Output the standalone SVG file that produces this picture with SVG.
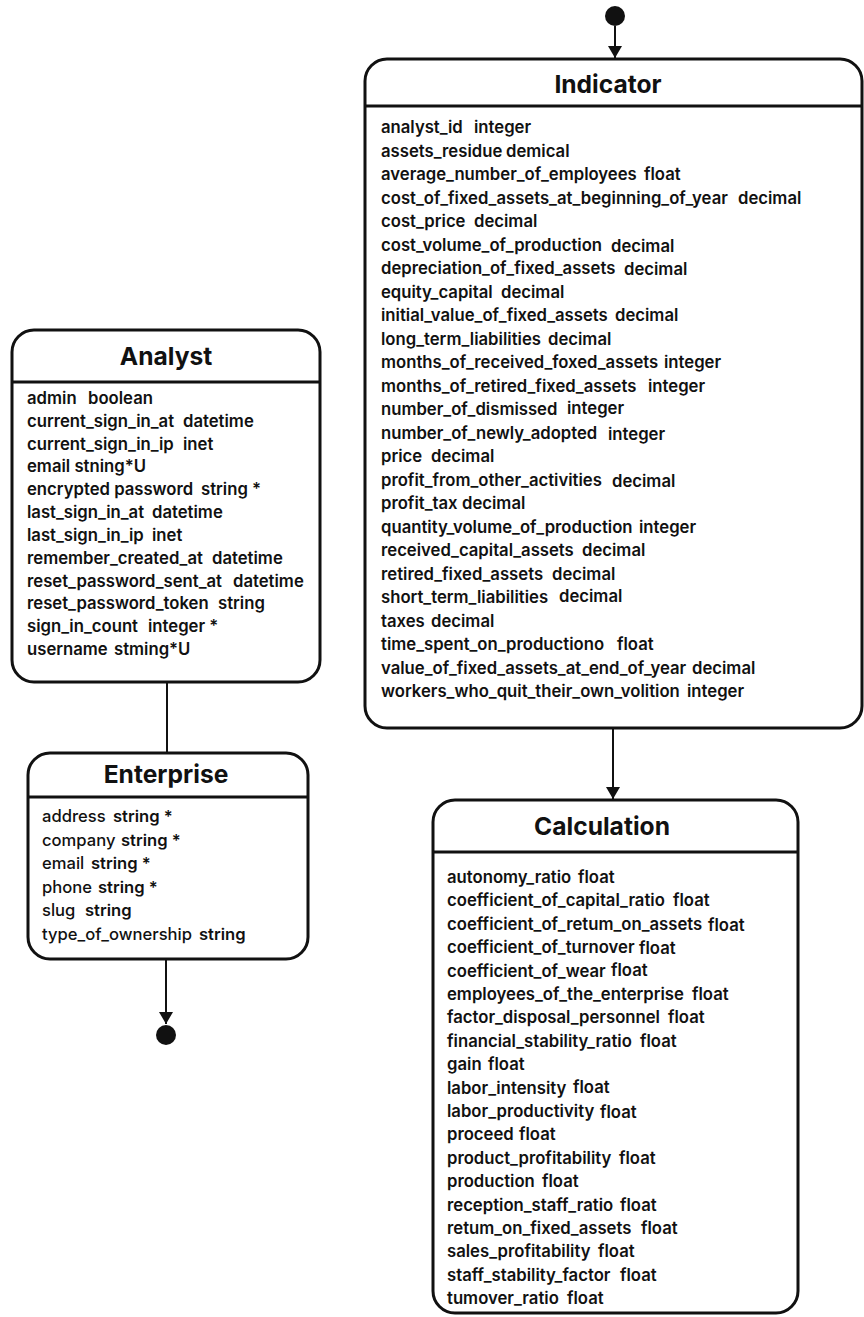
<svg xmlns="http://www.w3.org/2000/svg" width="864" height="1317" viewBox="0 0 864 1317">
<style>
.box{fill:#fff;stroke:#111;stroke-width:3}
.sep{stroke:#111;stroke-width:3}
.title{font-family:Inter,"Liberation Sans",sans-serif;font-weight:700;font-size:24.6px;fill:#111;text-anchor:middle}
.row{font-family:Inter,"Liberation Sans",sans-serif;font-weight:600;font-size:16.7px;fill:#111}
.ent{font-family:Inter,"Liberation Sans",sans-serif;font-weight:500;font-size:16.6px;fill:#111}
.ent .t{font-weight:600}
.conn{stroke:#111;stroke-width:2;fill:none}
.dot{fill:#111}
</style>
<defs>
<marker id="arr" viewBox="0 0 12 14" refX="12" refY="7" markerWidth="12" markerHeight="14" markerUnits="userSpaceOnUse" orient="auto">
<path d="M0,0 L12,7 L0,14 Z" fill="#111"/>
</marker>
</defs>

<g id="connectors">
<circle class="dot" cx="615" cy="16" r="10"/>
<line class="conn" x1="615" y1="26" x2="615" y2="58" marker-end="url(#arr)"/>
<line class="conn" x1="167" y1="682" x2="167" y2="753"/>
<line class="conn" x1="166" y1="959" x2="166" y2="1024" marker-end="url(#arr)"/>
<circle class="dot" cx="166" cy="1035" r="10"/>
<line class="conn" x1="613" y1="728" x2="613" y2="799" marker-end="url(#arr)"/>
</g>

<g id="analyst">
<rect class="box" x="12" y="330" width="308" height="352" rx="22"/>
<line class="sep" x1="12" y1="382" x2="320" y2="382"/>
<text class="title" x="166" y="365">Analyst</text>
<g class="row">
<text x="27" y="404">admin<tspan x="88">boolean</tspan></text>
<text x="27" y="427">current_sign_in_at<tspan x="183">datetime</tspan></text>
<text x="27" y="450">current_sign_in_ip<tspan x="183">inet</tspan></text>
<text x="27" y="472">email stning*U</text>
<text x="27" y="495">encrypted password<tspan x="201">string *</tspan></text>
<text x="27" y="518">last_sign_in_at<tspan x="152">datetime</tspan></text>
<text x="27" y="541">last_sign_in_ip<tspan x="152">inet</tspan></text>
<text x="27" y="564">remember_created_at<tspan x="212">datetime</tspan></text>
<text x="27" y="587">reset_password_sent_at<tspan x="233">datetime</tspan></text>
<text x="27" y="609">reset_password_token<tspan x="218">string</tspan></text>
<text x="27" y="632">sign_in_count<tspan x="148">integer *</tspan></text>
<text x="27" y="655">username<tspan x="114">stming*U</tspan></text>
</g>
</g>

<g id="enterprise">
<rect class="box" x="28" y="753" width="280" height="206" rx="22"/>
<line class="sep" x1="28" y1="797" x2="308" y2="797"/>
<text class="title" x="166" y="783">Enterprise</text>
<g class="ent">
<text x="42" y="822">address<tspan class="t" x="113">string *</tspan></text>
<text x="42" y="846">company<tspan class="t" x="121">string *</tspan></text>
<text x="42" y="869">email<tspan class="t" x="91">string *</tspan></text>
<text x="42" y="893">phone<tspan class="t" x="98">string *</tspan></text>
<text x="42" y="916">slug<tspan class="t" x="85">string</tspan></text>
<text x="42" y="940">type_of_ownership<tspan class="t" x="199">string</tspan></text>
</g>
</g>

<g id="indicator">
<rect class="box" x="365" y="59" width="497" height="669" rx="22"/>
<line class="sep" x1="365" y1="106" x2="862" y2="106"/>
<text class="title" x="608" y="93">Indicator</text>
<g class="row">
<text x="381" y="133">analyst_id<tspan x="474">integer</tspan></text>
<text x="381" y="156.5">assets_residue<tspan x="506">demical</tspan></text>
<text x="381" y="180">average_number_of_employees<tspan x="644">float</tspan></text>
<text x="381" y="203.5">cost_of_fixed_assets_at_beginning_of_year<tspan x="738">decimal</tspan></text>
<text x="381" y="227">cost_price<tspan x="474">decimal</tspan></text>
<text x="381" y="250.5">cost_volume_of_production<tspan x="611" dy="1">decimal</tspan></text>
<text x="381" y="274">depreciation_of_fixed_assets<tspan x="624" dy="1">decimal</tspan></text>
<text x="381" y="297.5">equity_capital<tspan x="501">decimal</tspan></text>
<text x="381" y="321">initial_value_of_fixed_assets<tspan x="615">decimal</tspan></text>
<text x="381" y="344.5">long_term_liabilities<tspan x="548">decimal</tspan></text>
<text x="381" y="368">months_of_received_foxed_assets<tspan x="664">integer</tspan></text>
<text x="381" y="391.5">months_of_retired_fixed_assets<tspan x="648">integer</tspan></text>
<text x="381" y="415">number_of_dismissed<tspan x="567" dy="-1">integer</tspan></text>
<text x="381" y="438.5">number_of_newly_adopted<tspan x="608" dy="1">integer</tspan></text>
<text x="381" y="462">price<tspan x="431">decimal</tspan></text>
<text x="381" y="485.5">profit_from_other_activities<tspan x="612" dy="1">decimal</tspan></text>
<text x="381" y="509">profit_tax<tspan x="462">decimal</tspan></text>
<text x="381" y="532.5">quantity_volume_of_production<tspan x="639">integer</tspan></text>
<text x="381" y="556">received_capital_assets<tspan x="582">decimal</tspan></text>
<text x="381" y="579.5">retired_fixed_assets<tspan x="552">decimal</tspan></text>
<text x="381" y="603">short_term_liabilities<tspan x="559" dy="-1">decimal</tspan></text>
<text x="381" y="626.5">taxes<tspan x="431">decimal</tspan></text>
<text x="381" y="650">time_spent_on_productiono<tspan x="617">float</tspan></text>
<text x="381" y="673.5">value_of_fixed_assets_at_end_of_year<tspan x="692">decimal</tspan></text>
<text x="381" y="697">workers_who_quit_their_own_volition<tspan x="687">integer</tspan></text>
</g>
</g>

<g id="calculation">
<rect class="box" x="433" y="800" width="365" height="513" rx="22"/>
<line class="sep" x1="433" y1="852" x2="798" y2="852"/>
<text class="title" x="602" y="835">Calculation</text>
<g class="row">
<text x="447" y="883">autonomy_ratio<tspan x="578">float</tspan></text>
<text x="447" y="906.4">coefficient_of_capital_ratio<tspan x="673">float</tspan></text>
<text x="447" y="929.8">coefficient_of_retum_on_assets<tspan x="708" dy="1">float</tspan></text>
<text x="447" y="953.2">coefficient_of_turnover<tspan x="639" dy="1">float</tspan></text>
<text x="447" y="976.6">coefficient_of_wear<tspan x="611" dy="-1">float</tspan></text>
<text x="447" y="1000">employees_of_the_enterprise<tspan x="692">float</tspan></text>
<text x="447" y="1023.4">factor_disposal_personnel<tspan x="668">float</tspan></text>
<text x="447" y="1046.8">financial_stability_ratio<tspan x="640">float</tspan></text>
<text x="447" y="1070.2">gain<tspan x="488">float</tspan></text>
<text x="447" y="1093.6">labor_intensity<tspan x="573" dy="-1">float</tspan></text>
<text x="447" y="1117">labor_productivity<tspan x="600" dy="1">float</tspan></text>
<text x="447" y="1140.4">proceed<tspan x="519">float</tspan></text>
<text x="447" y="1163.8">product_profitability<tspan x="619">float</tspan></text>
<text x="447" y="1187.2">production<tspan x="542">float</tspan></text>
<text x="447" y="1210.6">reception_staff_ratio<tspan x="620">float</tspan></text>
<text x="447" y="1234">retum_on_fixed_assets<tspan x="641">float</tspan></text>
<text x="447" y="1257.4">sales_profitability<tspan x="598">float</tspan></text>
<text x="447" y="1280.8">staff_stability_factor<tspan x="620">float</tspan></text>
<text x="447" y="1304.2">tumover_ratio<tspan x="567">float</tspan></text>
</g>
</g>
</svg>
